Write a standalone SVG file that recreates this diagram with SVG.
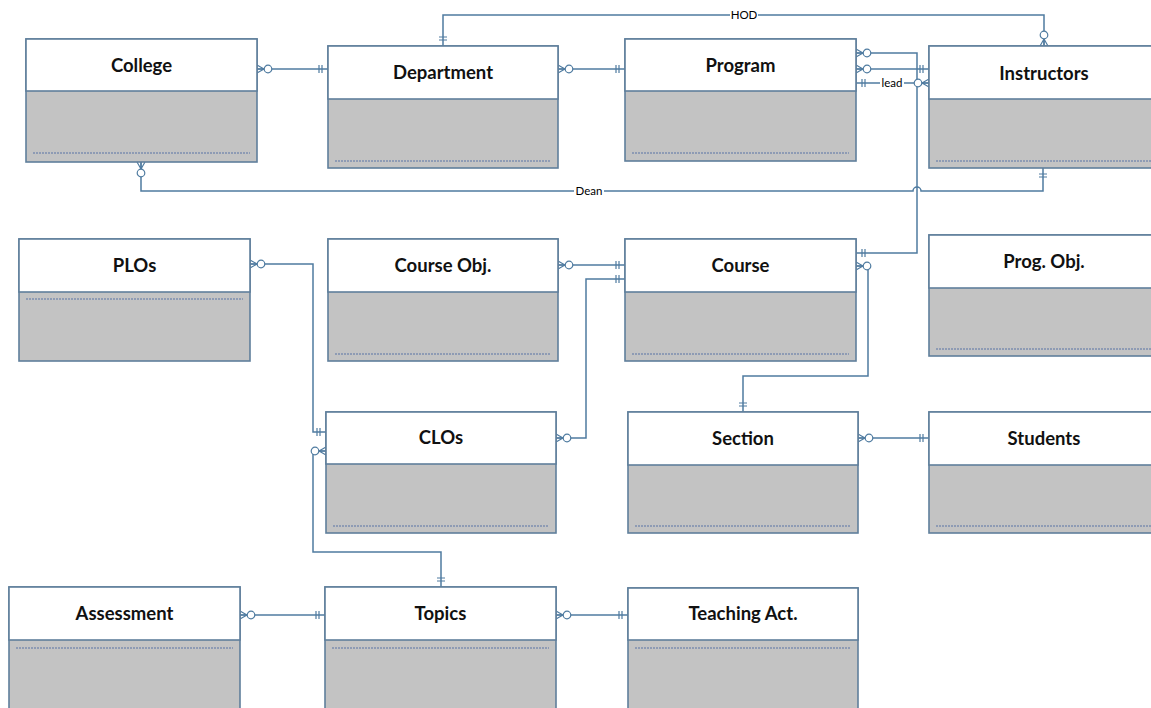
<svg xmlns="http://www.w3.org/2000/svg" width="1151" height="708" viewBox="0 0 1151 708">
<style>
.hdr{fill:#ffffff;stroke:#5f7f9c;stroke-width:1.6}
.body{fill:#c3c3c3;stroke:#5f7f9c;stroke-width:1.6}
.dot{stroke:#7d8fb0;stroke-width:1.4;stroke-dasharray:2 1;fill:none}
.title{font-family:Lato,"Liberation Sans",sans-serif;font-weight:bold;font-size:18.5px;fill:#111;text-anchor:middle}
.conn{fill:none;stroke:#4f7ba0;stroke-width:1.5;marker-start:url(#zmS);marker-end:url(#oneE)}
.lbl{font-family:Lato,"Liberation Sans",sans-serif;font-size:11.5px;fill:#000;text-anchor:middle}
.lblbg{fill:#ffffff}
</style>
<defs>
<marker id="zmS" markerUnits="userSpaceOnUse" markerWidth="20" markerHeight="12" viewBox="-16 -6 20 12" refX="0" refY="0" orient="auto-start-reverse" overflow="visible">
<path d="M-7,0 L0,-4 M-7,0 L0,0 M-7,0 L0,4" fill="none" stroke="#4f7ba0" stroke-width="1.2"/>
<circle cx="-11" cy="0" r="3.8" fill="#fff" stroke="#4f7ba0" stroke-width="1.2"/>
</marker>
<marker id="zmE" markerUnits="userSpaceOnUse" markerWidth="20" markerHeight="12" viewBox="-16 -6 20 12" refX="0" refY="0" orient="auto" overflow="visible">
<path d="M-7,0 L0,-4 M-7,0 L0,0 M-7,0 L0,4" fill="none" stroke="#4f7ba0" stroke-width="1.2"/>
<circle cx="-11" cy="0" r="3.8" fill="#fff" stroke="#4f7ba0" stroke-width="1.2"/>
</marker>
<marker id="oneE" markerUnits="userSpaceOnUse" markerWidth="20" markerHeight="12" viewBox="-16 -6 20 12" refX="0" refY="0" orient="auto" overflow="visible">
<path d="M-6,-4 V4 M-9,-4 V4" fill="none" stroke="#4f7ba0" stroke-width="1.2"/>
</marker>
<marker id="oneS" markerUnits="userSpaceOnUse" markerWidth="20" markerHeight="12" viewBox="-16 -6 20 12" refX="0" refY="0" orient="auto-start-reverse" overflow="visible">
<path d="M-6,-4 V4 M-9,-4 V4" fill="none" stroke="#4f7ba0" stroke-width="1.2"/>
</marker>
</defs>
<rect width="1151" height="708" fill="#ffffff"/>

<g id="connectors">
<path class="conn" d="M257,69 H328"/>
<path class="conn" d="M558,69 H625"/>
<path class="conn" style="marker-start:url(#oneS);marker-end:url(#zmE)" d="M443,46 V15 H1044 V46"/>
<path class="conn" d="M856,53 H917 V253 H856"/>
<path class="conn" d="M856,69 H929"/>
<path class="conn" style="marker-start:url(#oneS);marker-end:url(#zmE)" d="M856,83 H929"/>
<path class="conn" d="M141,162 V191 H913 A4,4 0 0 1 921,191 H1043 V168"/>
<path class="conn" d="M250,264 H313 V432 H326"/>
<path class="conn" d="M558,265 H625"/>
<path class="conn" d="M556,438 H586 V279 H625"/>
<path class="conn" d="M856,266 H868 V376 H743 V412"/>
<path class="conn" d="M858,438 H929"/>
<path class="conn" style="marker-start:url(#oneS);marker-end:url(#zmE)" d="M441,587 V552 H313 V451 H326"/>
<path class="conn" d="M240,615 H325"/>
<path class="conn" d="M556,615 H628"/>
<rect class="lblbg" x="730" y="9" width="28" height="12"/>
<text class="lbl" x="744" y="19">HOD</text>
<rect class="lblbg" x="880" y="77" width="24" height="12"/>
<text class="lbl" x="892" y="87">lead</text>
<rect class="lblbg" x="574" y="185" width="30" height="12"/>
<text class="lbl" x="589" y="195">Dean</text>
</g>

<g id="college">
<rect class="body" x="26" y="39" width="231" height="123"/>
<rect class="hdr" x="26" y="39" width="231" height="52"/>
<line class="dot" x1="33" y1="153" x2="250" y2="153"/>
<text class="title" x="141.5" y="71.5">College</text>
</g>
<g id="department">
<rect class="body" x="328" y="46" width="230" height="122"/>
<rect class="hdr" x="328" y="46" width="230" height="53"/>
<line class="dot" x1="335" y1="161" x2="551" y2="161"/>
<text class="title" x="443" y="79">Department</text>
</g>
<g id="program">
<rect class="body" x="625" y="39" width="231" height="122"/>
<rect class="hdr" x="625" y="39" width="231" height="52"/>
<line class="dot" x1="632" y1="153" x2="849" y2="153"/>
<text class="title" x="740.5" y="71.5">Program</text>
</g>
<g id="instructors">
<rect class="body" x="929" y="46" width="240" height="122"/>
<rect class="hdr" x="929" y="46" width="240" height="53"/>
<line class="dot" x1="936" y1="161" x2="1160" y2="161"/>
<text class="title" x="1044" y="80">Instructors</text>
</g>
<g id="plos">
<rect class="body" x="19" y="239" width="231" height="122"/>
<rect class="hdr" x="19" y="239" width="231" height="53"/>
<line class="dot" x1="26" y1="299" x2="243" y2="299"/>
<text class="title" x="134.5" y="272">PLOs</text>
</g>
<g id="course-obj">
<rect class="body" x="328" y="239" width="230" height="122"/>
<rect class="hdr" x="328" y="239" width="230" height="53"/>
<line class="dot" x1="335" y1="354" x2="551" y2="354"/>
<text class="title" x="443" y="272">Course Obj.</text>
</g>
<g id="course">
<rect class="body" x="625" y="239" width="231" height="122"/>
<rect class="hdr" x="625" y="239" width="231" height="53"/>
<line class="dot" x1="632" y1="354" x2="849" y2="354"/>
<text class="title" x="740.5" y="272">Course</text>
</g>
<g id="prog-obj">
<rect class="body" x="929" y="235" width="240" height="121"/>
<rect class="hdr" x="929" y="235" width="240" height="53"/>
<line class="dot" x1="936" y1="349" x2="1160" y2="349"/>
<text class="title" x="1044" y="268">Prog. Obj.</text>
</g>
<g id="clos">
<rect class="body" x="326" y="412" width="230" height="121"/>
<rect class="hdr" x="326" y="412" width="230" height="52"/>
<line class="dot" x1="333" y1="526" x2="549" y2="526"/>
<text class="title" x="441" y="444">CLOs</text>
</g>
<g id="section">
<rect class="body" x="628" y="412" width="230" height="121"/>
<rect class="hdr" x="628" y="412" width="230" height="53"/>
<line class="dot" x1="635" y1="526" x2="851" y2="526"/>
<text class="title" x="743" y="445">Section</text>
</g>
<g id="students">
<rect class="body" x="929" y="412" width="240" height="121"/>
<rect class="hdr" x="929" y="412" width="240" height="53"/>
<line class="dot" x1="936" y1="526" x2="1160" y2="526"/>
<text class="title" x="1044" y="445">Students</text>
</g>
<g id="assessment">
<rect class="body" x="9" y="587" width="231" height="140"/>
<rect class="hdr" x="9" y="587" width="231" height="53"/>
<line class="dot" x1="16" y1="648" x2="233" y2="648"/>
<text class="title" x="124.5" y="620">Assessment</text>
</g>
<g id="topics">
<rect class="body" x="325" y="587" width="231" height="140"/>
<rect class="hdr" x="325" y="587" width="231" height="53"/>
<line class="dot" x1="332" y1="648" x2="549" y2="648"/>
<text class="title" x="440.5" y="620">Topics</text>
</g>
<g id="teaching-act">
<rect class="body" x="628" y="588" width="230" height="140"/>
<rect class="hdr" x="628" y="588" width="230" height="52"/>
<line class="dot" x1="635" y1="648" x2="851" y2="648"/>
<text class="title" x="743" y="620">Teaching Act.</text>
</g>
</svg>
